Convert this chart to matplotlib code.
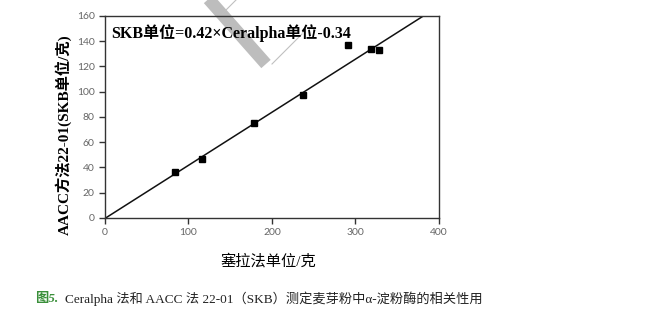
import numpy as np
import matplotlib.pyplot as plt
from matplotlib.lines import Line2D

# 塞拉法 (Ceralpha) vs AACC 22-01 (SKB)
ceralpha = [84, 116, 178, 237, 291, 319, 328]
skb = [36.6, 47, 75, 97, 136.5, 133.7, 132.7]
slope = 0.42
intercept = -0.34

x_ticks = [0, 100, 200, 300, 400]
y_ticks = [0, 20, 40, 60, 80, 100, 120, 140, 160]

cjk_serif = ['Liberation Serif', 'Noto Sans CJK SC']

fig = plt.figure(figsize=(6.5, 3.18), dpi=100)
ax = fig.add_axes([0.1615, 0.3145, 0.5138, 0.636])
ax.patch.set_alpha(0)

# fitted line, clipped to the axes box
xx = np.array([-intercept / slope, (160 - intercept) / slope])
ax.plot(xx, slope * xx + intercept, color='#111111', linewidth=1.1)
ax.plot(ceralpha, skb, linestyle='none', marker='s', markersize=4.5, color='black')

ax.set_xlim(0, 400)
ax.set_ylim(0, 160)
ax.set_xticks(x_ticks)
ax.set_yticks(y_ticks)
ax.tick_params(direction='out', length=4, width=1, colors='#333333',
               labelcolor='#666666', labelsize=7.5)
for lab in ax.get_xticklabels() + ax.get_yticklabels():
    lab.set_family('Lato')
for s in ax.spines.values():
    s.set_color('#333333')
    s.set_linewidth(1)

ax.text(0.02, 0.915, 'SKB单位=0.42×Ceralpha单位-0.34', transform=ax.transAxes,
        family=cjk_serif, fontweight='bold', fontsize=11.5, va='center', ha='left')

ax.set_xlabel('塞拉法单位/克', family=cjk_serif, fontsize=11)
ax.xaxis.set_label_coords(0.49, -0.175)
ax.set_ylabel('AACC方法22-01(SKB单位/克)', family=cjk_serif, fontsize=11, fontweight='bold')
ax.yaxis.set_label_coords(-0.099, 0.41)

# watermark band
H = 318.0
W = 650.0
fig.add_artist(Line2D([205 / W, 266 / W], [1 + 5 / H, 1 - 64 / H], transform=fig.transFigure,
                      color='#bdbdbd', linewidth=9, solid_capstyle='butt', zorder=-1))
fig.add_artist(Line2D([236 / W, 222 / W], [1.0, 1 - 14 / H], transform=fig.transFigure,
                      color='#c0c0c0', linewidth=0.8, zorder=-1))
fig.add_artist(Line2D([272 / W, 302 / W], [1 - 64 / H, 1 - 34 / H], transform=fig.transFigure,
                      color='#c0c0c0', linewidth=0.8, zorder=-1))

# caption
fig.text(35 / W, 1 - 299 / H, '图5.', color='#3a8f3a', fontstyle='italic', fontweight='bold',
         family=cjk_serif, fontsize=9.5, va='center', ha='left')
fig.text(65 / W, 1 - 299 / H, 'Ceralpha 法和 AACC 法 22-01（SKB）测定麦芽粉中α-淀粉酶的相关性用',
         color='#222222', family=cjk_serif, fontsize=9.5, va='center', ha='left')

fig.savefig('out.png', dpi=100)
